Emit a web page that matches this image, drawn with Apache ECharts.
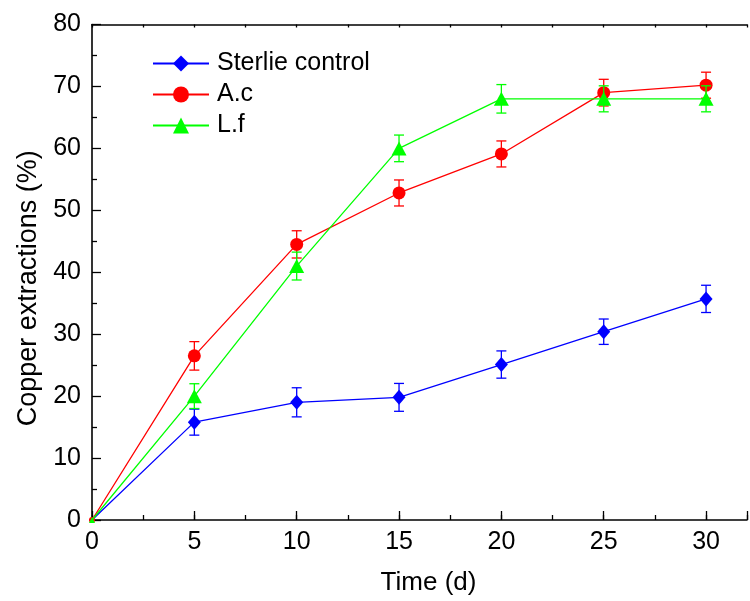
<!DOCTYPE html>
<html>
<head>
<meta charset="utf-8">
<script src="https://cdn.jsdelivr.net/npm/echarts@6/dist/echarts.min.js"></script>
<style>html,body{margin:0;padding:0;background:#fff}#c{width:750px;height:601px}</style>
</head>
<body>
<div id="c"></div>
<script>
var times = [0, 5, 10, 15, 20, 25, 30];
var seriesNames = ['Sterlie control', 'A.c', 'L.f'];
var sterileValues = [0, 15.8, 19.0, 19.8, 25.1, 30.4, 35.7];
var sterileErrors = [0, 2.1, 2.35, 2.25, 2.2, 2.05, 2.2];
var acValues = [0, 26.5, 44.5, 52.8, 59.1, 69.0, 70.2];
var acErrors = [0, 2.3, 2.2, 2.1, 2.1, 2.15, 2.1];
var lfValues = [0, 20.0, 41.0, 60.0, 68.0, 68.0, 68.0];
var lfErrors = [0, 2.0, 2.25, 2.15, 2.3, 2.1, 2.1];
var yTicks = [0, 10, 20, 30, 40, 50, 60, 70, 80];
var xTicks = [0, 5, 10, 15, 20, 25, 30];

var colors = ['#0000ff', '#ff0000', '#00ff00'];
var symbols = ['diamond', 'circle', 'triangle'];
var symbolSizes = [[13, 15], 13, [15, 14]];
var valuesList = [sterileValues, acValues, lfValues];
var errorsList = [sterileErrors, acErrors, lfErrors];

var font = 'Liberation Sans, Arial, sans-serif';
var chart = echarts.init(document.getElementById('c'), null, {renderer: 'canvas'});

var series = [];
valuesList.forEach(function (vals, i) {
  var errs = errorsList[i];
  var errData = [];
  times.forEach(function (t, k) {
    if (errs[k] > 0) errData.push([t, vals[k] - errs[k], vals[k] + errs[k]]);
  });
  series.push({
    type: 'custom',
    name: seriesNames[i] + ' err',
    xAxisIndex: 0, yAxisIndex: 0,
    z: 2 + i * 2,
    silent: true,
    renderItem: (function (color) {
      return function (params, api) {
        var x = api.value(0);
        var lo = api.coord([x, api.value(1)]);
        var hi = api.coord([x, api.value(2)]);
        var hw = 5;
        var st = {stroke: color, lineWidth: 1.3};
        return {
          type: 'group',
          children: [
            {type: 'line', shape: {x1: lo[0], y1: lo[1], x2: hi[0], y2: hi[1]}, style: st},
            {type: 'line', shape: {x1: lo[0] - hw, y1: lo[1], x2: lo[0] + hw, y2: lo[1]}, style: st},
            {type: 'line', shape: {x1: hi[0] - hw, y1: hi[1], x2: hi[0] + hw, y2: hi[1]}, style: st}
          ]
        };
      };
    })(colors[i]),
    encode: {x: 0, y: [1, 2]},
    data: errData
  });
  series.push({
    type: 'line',
    name: seriesNames[i],
    xAxisIndex: 0, yAxisIndex: 0,
    z: 3 + i * 2,
    data: times.map(function (t, k) { return [t, vals[k]]; }),
    symbol: symbols[i],
    symbolSize: (function (s) {
      return function (v) { return v[0] === 0 ? 6 : s; };
    })(symbolSizes[i]),
    showAllSymbol: true,
    clip: false,
    lineStyle: {color: colors[i], width: 1.3},
    itemStyle: {color: colors[i]},
    emphasis: {disabled: true}
  });
});

chart.setOption({
  animation: false,
  backgroundColor: '#fff',
  grid: {left: 92, top: 24.5, right: 0, bottom: 81, containLabel: false},
  legend: {
    orient: 'vertical',
    left: 152,
    top: 51,
    padding: 0,
    itemWidth: 56,
    itemHeight: 20,
    itemGap: 6,
    data: seriesNames,
    textStyle: {fontFamily: font, fontSize: 25, color: '#000', padding: [0, 0, 0, 3]}
  },
  xAxis: [
    {
      type: 'value', min: 0, max: 32, interval: 5,
      name: 'Time (d)', nameLocation: 'middle', nameGap: 50,
      nameTextStyle: {fontFamily: font, fontSize: 26, color: '#000', padding: [0, 0, 0, 18]},
      axisLine: {show: true, onZero: false, lineStyle: {color: '#000', width: 1.6}},
      axisTick: {show: true, inside: true, length: 9, lineStyle: {color: '#000', width: 1.3}},
      axisLabel: {fontFamily: font, fontSize: 25, color: '#000', margin: 10,
        formatter: function (v) { return xTicks.indexOf(v) >= 0 ? String(v) : ''; }},
      splitLine: {show: false}
    },
    {
      type: 'value', min: 0, max: 32, interval: 2.5, position: 'bottom',
      axisLine: {show: false},
      axisTick: {show: true, inside: true, length: 5, lineStyle: {color: '#000', width: 1.3}},
      axisLabel: {show: false}, splitLine: {show: false}
    },
    {
      type: 'value', min: 0, max: 32, interval: 2.5, position: 'top',
      axisLine: {show: true, lineStyle: {color: '#000', width: 1.6}},
      axisTick: {show: true, inside: true, length: 3, lineStyle: {color: '#000', width: 1.3}},
      axisLabel: {show: false}, splitLine: {show: false}
    }
  ],
  yAxis: [
    {
      type: 'value', min: 0, max: 80, interval: 10,
      name: 'Copper extractions (%)', nameLocation: 'middle', nameGap: 49,
      nameTextStyle: {fontFamily: font, fontSize: 27, color: '#000', padding: [0, 32, 0, 0]},
      axisLine: {show: true, onZero: false, lineStyle: {color: '#000', width: 1.6}},
      axisTick: {show: true, inside: true, length: 9, lineStyle: {color: '#000', width: 1.3}},
      minorTick: {show: true, splitNumber: 2, length: 5, lineStyle: {color: '#000', width: 1.3}},
      axisLabel: {fontFamily: font, fontSize: 25, color: '#000', margin: 11,
        formatter: function (v) { return yTicks.indexOf(v) >= 0 ? String(v) : ''; }},
      splitLine: {show: false}
    }
  ],
  series: series
});
</script>
</body>
</html>
